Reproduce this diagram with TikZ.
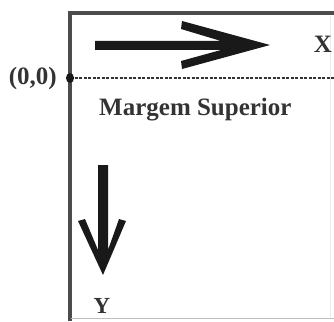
\documentclass[tikz,border=0pt]{standalone}
\usepackage{fontspec}
\setmainfont{Liberation Serif}
\begin{document}
\begin{tikzpicture}[x=1pt,y=-1pt,
  lbl/.style={font=\bfseries\fontsize{25}{25}\selectfont, text=black!80, inner sep=0pt},
  frame/.style={draw=black!70, line width=3.5pt},
  arrowfill/.style={fill=black!90, draw=none}]
\useasboundingbox (0,0) rectangle (334,321);
% frame
\draw[frame] (70,321) -- (70,13) -- (334,13);
\draw[black!25, line width=1pt] (71,318) -- (334,318);
\draw[black!8, line width=0.8pt] (330,15) -- (330,318);
% origin
\coordinate (o) at (70,78);
\coordinate (oe) at (334,78);
\draw[black!80, line width=1.2pt, dash pattern=on 3pt off 1.5pt] (o) -- (oe);
\fill[black!90] (o) ellipse [x radius=4, y radius=5];
\node[lbl, anchor=east] (orig) at (57,78) {(0,0)};
% horizontal arrow
\fill[arrowfill] (95,41) -- (221,41) -- (181,29) -- (182,21) -- (270,45) -- (182,69) -- (181,61) -- (221,50) -- (95,50) -- cycle;
\node[lbl] (xl) at (323,44) {X};
% label
\node[lbl, anchor=west] (ms) at (99,110) {Margem Superior};
% vertical arrow
\fill[arrowfill] (98,165) -- (98,250) -- (85,219) -- (78,221) -- (103,275) -- (126,221) -- (119,219) -- (108,250) -- (108,165) -- cycle;
\node[lbl, font=\bfseries\fontsize{23}{23}\selectfont] (yl) at (102,306) {Y};
\end{tikzpicture}
\end{document}
